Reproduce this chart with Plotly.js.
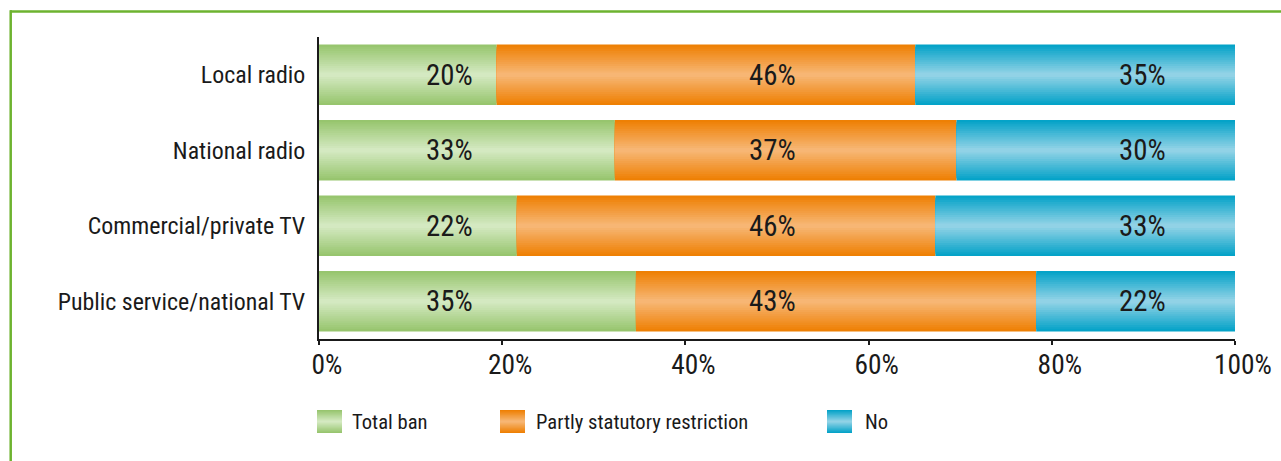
<!DOCTYPE html>
<html>
<head>
<meta charset="utf-8">
<script src="https://cdn.plot.ly/plotly-3.0.1.min.js"></script>
<style>
  html, body { margin: 0; padding: 0; background: #ffffff; }
  #chart { width: 1281px; height: 461px; }
</style>
</head>
<body>
<div id="chart"></div>
<script>
// ---- data ----
const categories = ['Local radio', 'National radio', 'Commercial/private TV', 'Public service/national TV'];
const seriesNames = ['Total ban', 'Partly statutory restriction', 'No'];
const totalBan = [19.4, 32.3, 21.6, 34.6];
const partlyRestriction = [45.7, 37.3, 45.7, 43.7];
const noRestriction = [34.9, 30.4, 32.7, 21.7];
const totalBanLabels = ['20%', '33%', '22%', '35%'];
const partlyLabels = ['46%', '37%', '46%', '43%'];
const noLabels = ['35%', '30%', '33%', '22%'];
const tickValues = [0, 20, 40, 60, 80, 100];
const tickLabels = ['0%', '20%', '40%', '60%', '80%', '100%'];

// ---- font selection: pick the narrowest available family, size to match reference widths ----
const candidates = ['Roboto Condensed', 'Liberation Sans Narrow', 'Arial Narrow', 'DejaVu Sans Condensed', 'Roboto', 'Liberation Sans'];
const cv = document.createElement('canvas').getContext('2d');
function measure(fam, txt) { cv.font = '100px ' + fam; return cv.measureText(txt).width; }
function available(f) {
  const s = 'Public service/national TV 0123456789%';
  return measure("'" + f + "', monospace", s) !== measure('monospace', s) ||
         measure("'" + f + "', serif", s) !== measure('serif', s);
}
let chosen = candidates.find(available) || 'sans-serif';
const FONT = "'" + chosen + "', sans-serif";
function sizeFor(txt, targetW) { return Math.round(100 * targetW / measure(FONT, txt) * 10) / 10; }
const ySize = sizeFor('Public service/national TV', 248);
const tickSize = sizeFor('100%', 58);
const barSize = sizeFor('35%', 46.7);
const legSize = sizeFor('Partly statutory restriction', 212);

// ---- styling ----
const TEXT = '#1a1a1a';
const gradients = [
  { edge: [149, 196, 107], center: [214, 234, 196] },
  { edge: [238, 126, 0], center: [247, 184, 120] },
  { edge: [0, 161, 199], center: [150, 212, 231] }
];
const labelColumns = [14.3, 49.5, 89.9]; // x positions (axis units) of the value labels
const N = 14;
const BAR_W = 0.8;

function lerpColor(a, b, t) {
  const c = a.map((v, i) => Math.round(v + (b[i] - v) * t));
  return 'rgb(' + c.join(',') + ')';
}

const seriesValues = [totalBan, partlyRestriction, noRestriction];
const seriesLabels = [totalBanLabels, partlyLabels, noLabels];

const bases = seriesValues.map((vals, s) =>
  vals.map((v, j) => seriesValues.slice(0, s).reduce((acc, arr) => acc + arr[j], 0))
);

const traces = [];
seriesValues.forEach((vals, s) => {
  const g = gradients[s];
  for (let i = 0; i < N; i++) {
    const f = 1 - i / N;
    const d = Math.max(0, f - 0.5 / N);
    traces.push({
      type: 'bar',
      orientation: 'h',
      y: categories,
      x: vals,
      base: bases[s],
      width: BAR_W * f,
      name: seriesNames[s],
      marker: { color: lerpColor(g.center, g.edge, d), line: { width: 0 } },
      showlegend: false,
      hoverinfo: 'skip'
    });
  }
});

const W = 1281, H = 461;
const M = { l: 319, r: 46, t: 37, b: 122 };
const PW = W - M.l - M.r, PH = H - M.t - M.b;
const px = x => (x - M.l) / PW;
const py = y => (H - M.b - y) / PH;

const annotations = [];
seriesLabels.forEach((labels, s) => {
  labels.forEach((t, j) => {
    annotations.push({
      x: labelColumns[s], y: categories[j], xref: 'x', yref: 'y',
      text: t, showarrow: false,
      font: { family: FONT, size: barSize, color: TEXT },
      xanchor: 'center', yanchor: 'middle'
    });
  });
});

const shapes = [];
shapes.push({ type: 'line', xref: 'paper', yref: 'paper', x0: px(10), x1: px(1281), y0: py(11.5), y1: py(11.5),
  line: { color: '#6db32f', width: 2.5 } });
shapes.push({ type: 'line', xref: 'paper', yref: 'paper', x0: px(10.7), x1: px(10.7), y0: py(10.3), y1: py(461),
  line: { color: '#6db32f', width: 2.5 } });

const legendSwatchX = [317, 500, 827];
const legendTextX = [350, 534, 863];
const legTop = 410, legBot = 433, legMid = (legTop + legBot) / 2;
seriesNames.forEach((name, s) => {
  const g = gradients[s];
  for (let i = 0; i < N; i++) {
    const f = 1 - i / N;
    const d = Math.max(0, f - 0.5 / N);
    const half = (legBot - legTop) / 2 * f;
    shapes.push({
      type: 'rect', xref: 'paper', yref: 'paper',
      x0: px(legendSwatchX[s]), x1: px(legendSwatchX[s] + 25),
      y0: py(legMid - half), y1: py(legMid + half),
      fillcolor: lerpColor(g.center, g.edge, d), line: { width: 0 }, layer: 'above'
    });
  }
  annotations.push({
    xref: 'paper', yref: 'paper', x: px(legendTextX[s]), y: py(legMid),
    xanchor: 'left', yanchor: 'middle', showarrow: false, text: name,
    font: { family: FONT, size: legSize, color: TEXT }
  });
});

const layout = {
  width: W, height: H,
  margin: M,
  paper_bgcolor: '#ffffff', plot_bgcolor: '#ffffff',
  barmode: 'overlay',
  showlegend: false,
  font: { family: FONT, color: TEXT },
  xaxis: {
    range: [0, 100], tickvals: tickValues, ticktext: tickLabels,
    showgrid: false, zeroline: false,
    showline: true, linecolor: TEXT, linewidth: 2,
    ticks: 'outside', ticklen: 4, tickwidth: 2, tickcolor: TEXT,
    ticklabelshift: 8, ticklabelstandoff: -4,
    tickfont: { family: FONT, size: tickSize, color: TEXT },
    fixedrange: true
  },
  yaxis: {
    type: 'category', categoryorder: 'array', categoryarray: categories,
    autorange: 'reversed',
    showgrid: false, zeroline: false,
    showline: true, linecolor: TEXT, linewidth: 2,
    ticks: '', ticklabelstandoff: 7,
    tickfont: { family: FONT, size: ySize, color: TEXT },
    fixedrange: true
  },
  annotations: annotations,
  shapes: shapes
};

Plotly.newPlot('chart', traces, layout, { displayModeBar: false, staticPlot: true });
</script>
</body>
</html>
